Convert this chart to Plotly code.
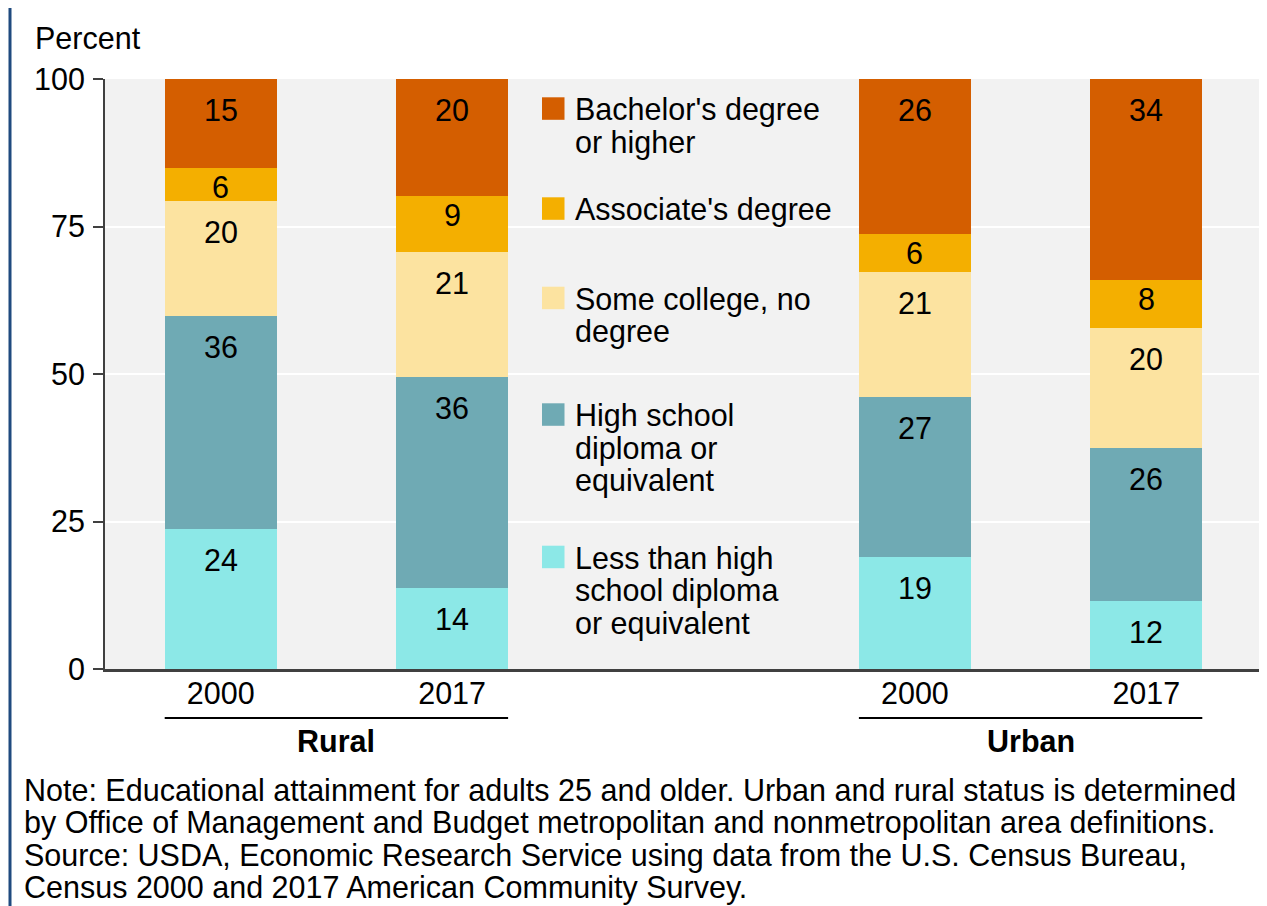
import plotly.graph_objects as go

# ---------------- data ----------------
x_cats = ["Rural 2000", "Rural 2017", "gap", "Urban 2000", "Urban 2017"]
x_ticktext = ["2000", "2017", "", "2000", "2017"]
groups = ["Rural", "Urban"]

series_names = [
    "Less than high school diploma or equivalent",
    "High school diploma or equivalent",
    "Some college, no degree",
    "Associate's degree",
    "Bachelor's degree or higher",
]
less_than_hs = [23.7, 13.7, None, 19.0, 11.6]
high_school = [36.1, 35.8, None, 27.1, 25.9]
some_college = [19.6, 21.2, None, 21.2, 20.3]
associate = [5.6, 9.4, None, 6.4, 8.1]
bachelor = [15.0, 19.9, None, 26.3, 34.1]
series_values = [less_than_hs, high_school, some_college, associate, bachelor]
series_colors = ["#8CE8E7", "#6FAAB4", "#FCE3A0", "#F4AF00", "#D45E00"]

legend_lines = {
    "Bachelor's degree or higher": ["Bachelor's degree", "or higher"],
    "Associate's degree": ["Associate's degree"],
    "Some college, no degree": ["Some college, no", "degree"],
    "High school diploma or equivalent": ["High school", "diploma or", "equivalent"],
    "Less than high school diploma or equivalent": ["Less than high", "school diploma", "or equivalent"],
}
note_lines = [
    "Note: Educational attainment for adults 25 and older. Urban and rural status is determined",
    "by Office of Management and Budget metropolitan and nonmetropolitan area definitions.",
    "Source: USDA, Economic Research Service using data from the U.S. Census Bureau,",
    "Census 2000 and 2017 American Community Survey.",
]

# ---------------- layout helpers ----------------
OFF = 8  # page body margin
W, H = 1267 - OFF, 906 - OFF
PLOT_L, PLOT_R, PLOT_T, PLOT_B = 105, 1262, 79, 669  # page pixels
L, R, T = PLOT_L - OFF, W - (PLOT_R - OFF), PLOT_T - OFF
B = H - (PLOT_B - OFF)
PW, PH = W - L - R, H - T - B
FONT = "Liberation Sans, Arial, sans-serif"
FS = 30.5
BARGAP = 0.516
BAR_W = 1 - BARGAP


def pxx(x):
    return (x - PLOT_L) / PW


def pyy(y):
    return (PLOT_B - y) / PH


fig = go.Figure()
for name, vals, col in zip(series_names, series_values, series_colors):
    fig.add_trace(go.Bar(
        x=x_cats, y=vals, name=name,
        marker=dict(color=col, line=dict(width=0)),
        showlegend=False, hoverinfo="x+y+name",
    ))

annotations = []
shapes = []

# segment labels
for i, cat in enumerate(x_cats):
    cum = 0.0
    for vals in series_values:
        v = vals[i]
        if v is None:
            continue
        cum += v
        seg_px = v * PH / 100
        off = 19 if seg_px < 60 else 31
        annotations.append(dict(
            x=cat, y=cum, xref="x", yref="y", text=f"{v:.0f}", showarrow=False,
            yanchor="middle", yshift=-off, font=dict(size=FS, color="black", family=FONT),
        ))

# manual legend (top to bottom)
legend_tops = [97.3, 197.3, 286.7, 403.3, 545.7]
for name, col, top in zip(series_names[::-1], series_colors[::-1], legend_tops):
    shapes.append(dict(type="rect", xref="paper", yref="paper",
                       x0=pxx(542), x1=pxx(564.5), y0=pyy(top), y1=pyy(top + 22.5),
                       fillcolor=col, line=dict(width=0), layer="above"))
    for j, line in enumerate(legend_lines[name]):
        annotations.append(dict(
            x=pxx(573), y=pyy(top + 12.5 + 32.5 * j), xref="paper", yref="paper",
            text=line, showarrow=False, xanchor="left", yanchor="middle",
            font=dict(size=FS, color="black", family=FONT),
        ))

# group underline and labels
for k, g in enumerate(groups):
    i0 = x_cats.index(f"{g} 2000")
    i1 = x_cats.index(f"{g} 2017")
    shapes.append(dict(type="line", xref="x", yref="paper",
                       x0=i0 - BAR_W / 2, x1=i1 + BAR_W / 2, y0=pyy(718), y1=pyy(718),
                       line=dict(color="black", width=2)))
    annotations.append(dict(
        x=(i0 + i1) / 2, y=pyy(741), xref="x", yref="paper", text=f"<b>{g}</b>",
        showarrow=False, yanchor="middle", font=dict(size=FS, color="black", family=FONT),
    ))

# y-axis title
annotations.append(dict(x=pxx(33), y=pyy(38), xref="paper", yref="paper", text="Percent",
                        showarrow=False, xanchor="left", yanchor="middle",
                        font=dict(size=FS, color="black", family=FONT)))

# note
for j, line in enumerate(note_lines):
    annotations.append(dict(x=pxx(22), y=pyy(790 + 32.5 * j), xref="paper", yref="paper",
                            text=line, showarrow=False, xanchor="left", yanchor="middle",
                            font=dict(size=FS, color="black", family=FONT)))

# left blue rule
shapes.append(dict(type="line", xref="paper", yref="paper", x0=pxx(10), x1=pxx(10),
                   y0=pyy(OFF), y1=pyy(906), line=dict(color="#1F4A7F", width=3)))

fig.update_layout(
    width=W, height=H,
    margin=dict(l=L, r=R, t=T, b=B, pad=0),
    barmode="stack", bargap=BARGAP,
    plot_bgcolor="#F2F2F2", paper_bgcolor="white",
    font=dict(family=FONT, size=FS, color="black"),
    showlegend=False,
    annotations=annotations, shapes=shapes,
    xaxis=dict(type="category", categoryorder="array", categoryarray=x_cats,
               tickvals=x_cats, ticktext=x_ticktext, range=[-0.5, 4.5],
               showline=True, linecolor="#404040", linewidth=2.5, ticks="",
               showgrid=False, tickfont=dict(size=FS, color="black"),
               ticklabelstandoff=-4, fixedrange=True),
    yaxis=dict(range=[0, 100], tickvals=[0, 25, 50, 75, 100], showline=True,
               linecolor="#404040", linewidth=2, ticks="outside", ticklen=10,
               tickcolor="#404040", tickwidth=2, showgrid=True, gridcolor="white",
               gridwidth=2, zeroline=False, tickfont=dict(size=FS, color="black"),
               ticklabelstandoff=2, fixedrange=True),
)

fig.write_html("out.html")
